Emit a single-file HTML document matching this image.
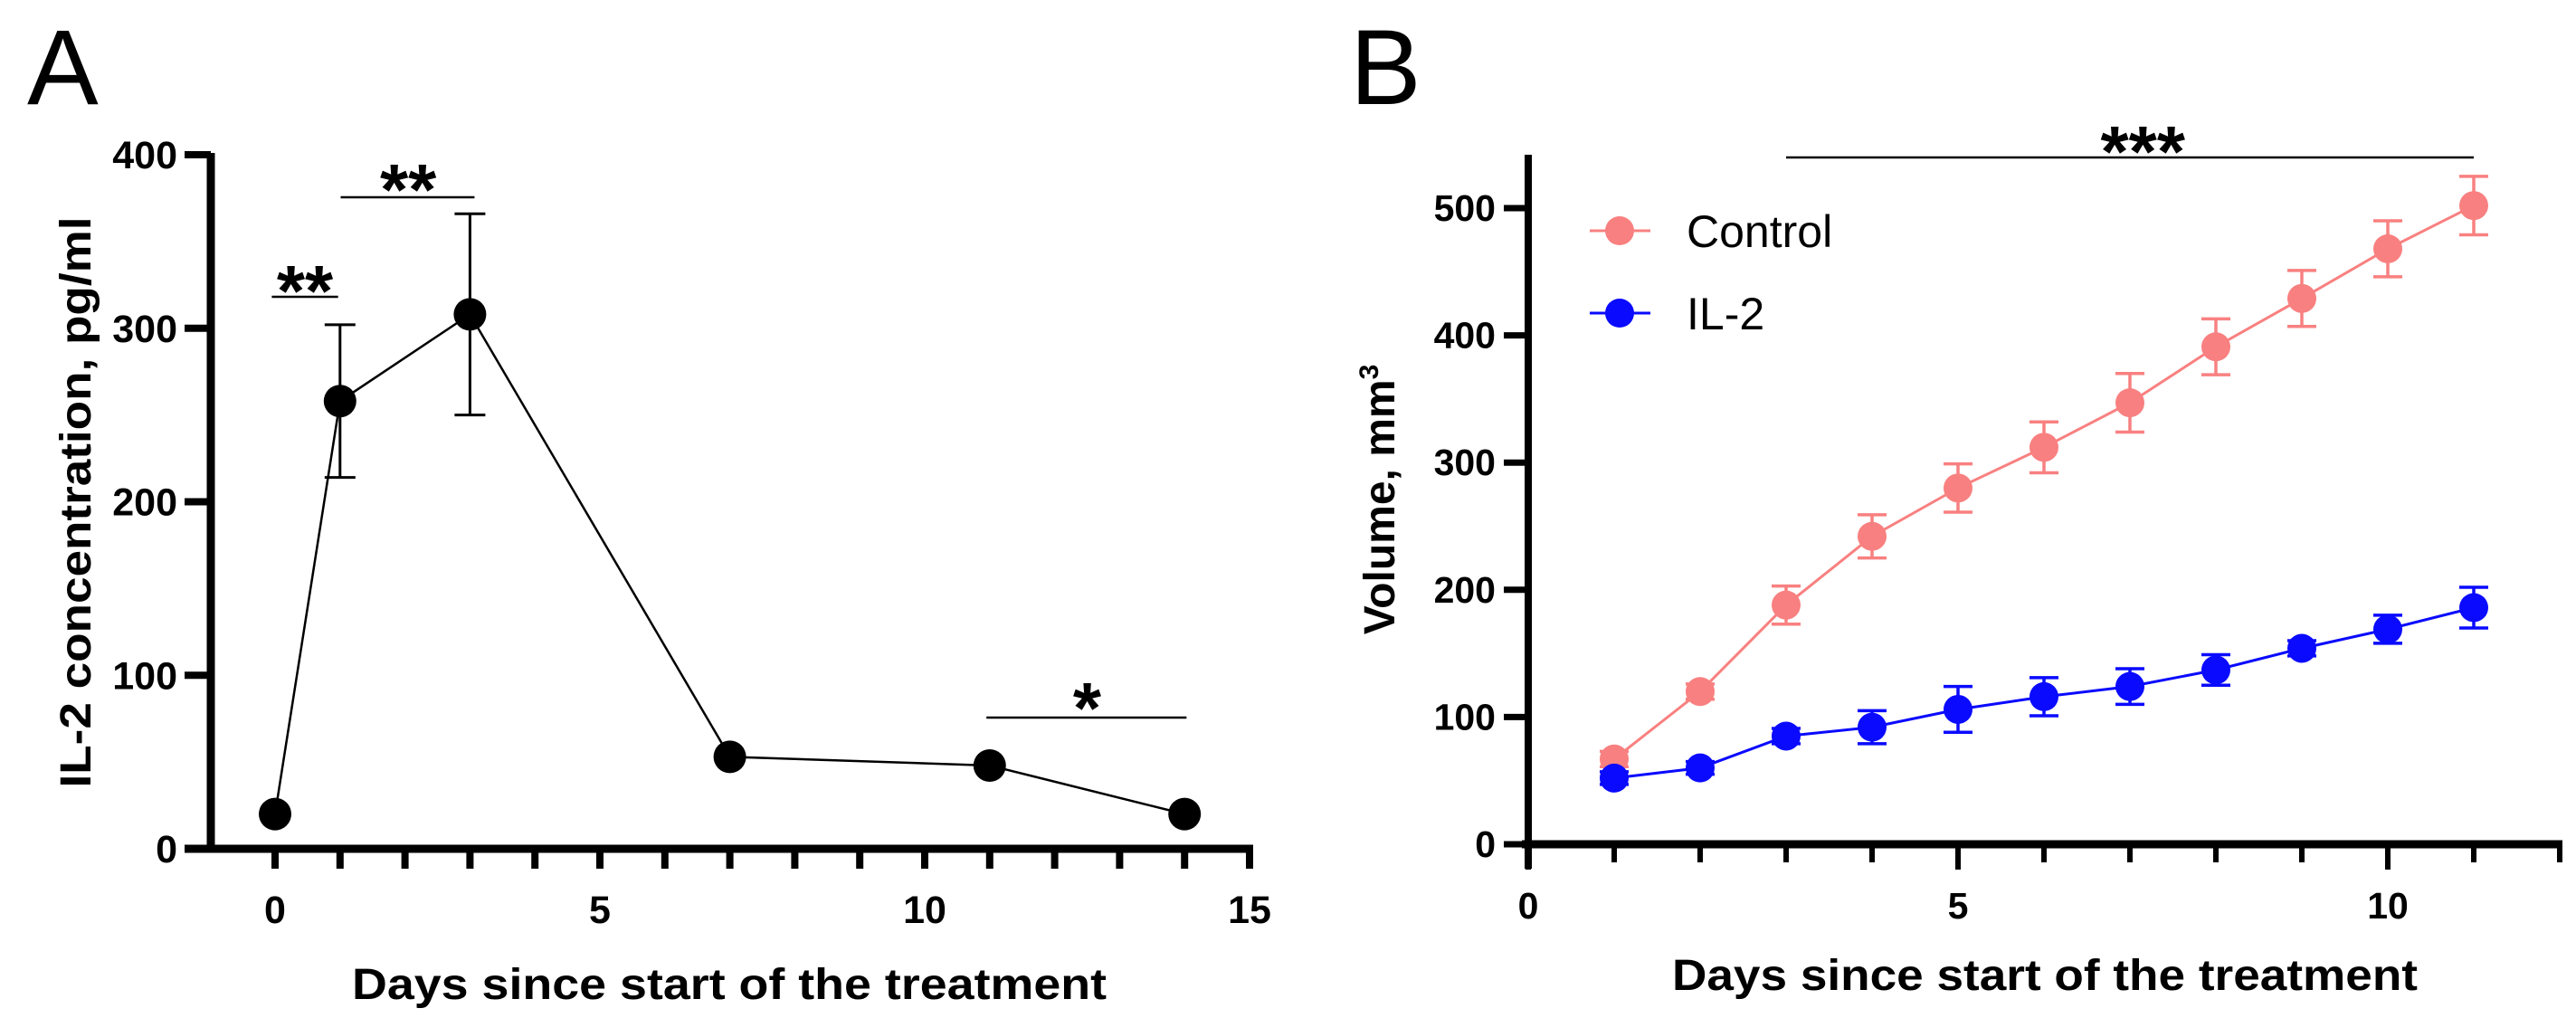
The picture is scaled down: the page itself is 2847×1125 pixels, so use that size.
<!DOCTYPE html>
<html><head><meta charset="utf-8"><style>
html,body{margin:0;padding:0;background:#fff}
svg{display:block}
text{font-family:"Liberation Sans",Arial,sans-serif}
</style></head><body>
<svg id="fig" width="2847" height="1125" viewBox="0 0 2847 1125" xmlns="http://www.w3.org/2000/svg">
<g id="pa"></g>
<g id="pb"></g>
</svg>
<script>
// Panel A data
const aDays = [0, 1, 3, 7, 11, 14];
const aValues = [20, 258, 308, 53, 48, 20];
const aErrLow = [20, 214, 250, 53, 48, 20];
const aErrHigh = [20, 302, 366, 53, 48, 20];
const aXTicks = [0, 5, 10, 15];
const aYTicks = [0, 100, 200, 300, 400];
// Panel B data
const bDays = [1,2,3,4,5,6,7,8,9,10,11];
const bControl = [67,120,188,242,280,312,347,391,429,468,502];
const bControlErr = [6,6,15,17,19,20,23,22,22,22,23];
const bIL2 = [52,60,85,92,106,116,124,137,154,169,186];
const bIL2Err = [5,5,6,13,18,15,14,12,6,11,16];
const bXTicks = [0,5,10];
const bYTicks = [0,100,200,300,400,500];

const NS="http://www.w3.org/2000/svg";
function mk(parent,tag,attrs,txt){const e=document.createElementNS(NS,tag);for(const k in attrs)e.setAttribute(k,attrs[k]);if(txt!==undefined)e.textContent=txt;parent.appendChild(e);return e;}
function star(p,cx,cy,s,name){
  const t=mk(p,'text',{x:cx,y:cy+42,'font-size':80,'font-weight':'bold','text-anchor':'middle'},s);
  
  
}
function sigLine(p,x1,x2,y,name){
  const l=mk(p,'line',{x1:x1,y1:y,x2:x2,y2:y,stroke:'#000','stroke-width':2.5});
  
  
}

// ---------- Panel A ----------
const pa=document.getElementById('pa');
const ax=d=>304+d*71.8;
const ay=v=>938-v*(938-171)/400;
let t=mk(pa,'text',{x:30,y:115,'font-size':118},'A');


let l=mk(pa,'line',{x1:233,y1:ay(400)-2,x2:233,y2:ay(0)+4,stroke:'#000','stroke-width':9});


aYTicks.forEach(v=>{
  const tk=mk(pa,'line',{x1:204,y1:ay(v),x2:233,y2:ay(v),stroke:'#000','stroke-width':8});
  
  
  const tl=mk(pa,'text',{x:196,y:ay(v)+15,'font-size':43,'font-weight':'bold','text-anchor':'end'},v);
  
  
});
l=mk(pa,'line',{x1:204,y1:ay(0),x2:ax(15)+4,y2:ay(0),stroke:'#000','stroke-width':9});


for(let d=0;d<=15;d++){
  const tk=mk(pa,'line',{x1:ax(d),y1:ay(0),x2:ax(d),y2:ay(0)+22,stroke:'#000','stroke-width':8});
  
  
}
aXTicks.forEach(d=>{
  const tl=mk(pa,'text',{x:ax(d),y:1020,'font-size':43,'font-weight':'bold','text-anchor':'middle'},d);
  
  
});
t=mk(pa,'text',{x:806,y:1104,'font-size':48,'font-weight':'bold','text-anchor':'middle',textLength:834,lengthAdjust:'spacingAndGlyphs'},'Days since start of the treatment');


t=mk(pa,'text',{x:0,y:0,'font-size':48,'font-weight':'bold','text-anchor':'middle',textLength:631,lengthAdjust:'spacingAndGlyphs',transform:'translate(100,555) rotate(-90)'},'IL-2 concentration, pg/ml');


l=mk(pa,'polyline',{points:aDays.map((d,i)=>ax(d)+','+ay(aValues[i])).join(' '),fill:'none',stroke:'#000','stroke-width':2.5});


aDays.forEach((d,i)=>{
  if(aErrHigh[i]>aErrLow[i]){
    const x=ax(d),lo=ay(aErrLow[i]),hi=ay(aErrHigh[i]);
    const e=mk(pa,'path',{d:`M${x},${lo}V${hi}M${x-17},${lo}h34M${x-17},${hi}h34`,stroke:'#000','stroke-width':3,fill:'none'});
    
    
  }
  const c=mk(pa,'circle',{cx:ax(d),cy:ay(aValues[i]),r:18,fill:'#000'});
  
  
});
sigLine(pa,ax(-0.05),ax(0.97),328,'a-significance-line-day0-1');
star(pa,ax(0.46),307,'**','a-significance-stars-day0-1');
sigLine(pa,ax(1.01),ax(3.07),218,'a-significance-line-day1-3');
star(pa,ax(2.05),195,'**','a-significance-stars-day1-3');
sigLine(pa,ax(10.95),ax(14.03),793,'a-significance-line-day11-14');
star(pa,ax(12.5),768,'*','a-significance-stars-day11-14');

// ---------- Panel B ----------
const pb=document.getElementById('pb');
const bx=d=>1689+d*95;
const by=v=>933-v*(933-230)/500;
t=mk(pb,'text',{x:1492,y:115,'font-size':118},'B');


l=mk(pb,'line',{x1:1689,y1:171,x2:1689,y2:960,stroke:'#000','stroke-width':8});


bYTicks.forEach(v=>{
  const tk=mk(pb,'line',{x1:1662,y1:by(v),x2:1689,y2:by(v),stroke:'#000','stroke-width':7});
  
  
  const tl=mk(pb,'text',{x:1653,y:by(v)+14,'font-size':41,'font-weight':'bold','text-anchor':'end'},v);
  
  
});
l=mk(pb,'line',{x1:1682,y1:by(0),x2:bx(12)+3,y2:by(0),stroke:'#000','stroke-width':9});


for(let d=0;d<=12;d++){
  const major=bXTicks.includes(d);
  const tk=mk(pb,'line',{x1:bx(d),y1:by(0),x2:bx(d),y2:by(0)+(major?28:20),stroke:'#000','stroke-width':6});
  
  
}
bXTicks.forEach(d=>{
  const tl=mk(pb,'text',{x:bx(d),y:1015,'font-size':41,'font-weight':'bold','text-anchor':'middle'},d);
  
  
});
t=mk(pb,'text',{x:2260,y:1094,'font-size':48,'font-weight':'bold','text-anchor':'middle',textLength:824,lengthAdjust:'spacingAndGlyphs'},'Days since start of the treatment');


t=mk(pb,'text',{x:0,y:0,'font-size':48,'font-weight':'bold','text-anchor':'middle',transform:'translate(1541,552) rotate(-90)'});


t.innerHTML='Volume, mm<tspan dy="-18" font-size="30">3</tspan>';
function series(vals,errs,color,name){
  const g=mk(pb,'g',{});
  
  
  const ln=mk(g,'polyline',{points:bDays.map((d,i)=>bx(d)+','+by(vals[i])).join(' '),fill:'none',stroke:color,'stroke-width':3});
  
  
  bDays.forEach((d,i)=>{
    const x=bx(d),lo=by(vals[i]-errs[i]),hi=by(vals[i]+errs[i]);
    const e=mk(g,'path',{d:`M${x},${lo}V${hi}M${x-16},${lo}h32M${x-16},${hi}h32`,stroke:color,'stroke-width':3.5,fill:'none'});
    
    
    const c=mk(g,'circle',{cx:x,cy:by(vals[i]),r:16,fill:color});
    
    
  });
}
series(bControl,bControlErr,'#f98080','control-series');
series(bIL2,bIL2Err,'#0a0aff','il2-series');
sigLine(pb,bx(3),bx(11),174,'b-significance-line-day3-11');
star(pb,bx(7.15),153,'***','b-significance-stars-day3-11');
function legend(y,color,label,name){
  const g=mk(pb,'g',{});
  
  
  mk(g,'line',{x1:1757,y1:y,x2:1824,y2:y,stroke:color,'stroke-width':3});
  mk(g,'circle',{cx:1790,cy:y,r:16,fill:color});
  mk(g,'text',{x:1864,y:y+18,'font-size':50},label);
}
legend(255,'#f98080','Control','legend-control');
legend(346,'#0a0aff','IL-2','legend-il2');
</script>
</body></html>
